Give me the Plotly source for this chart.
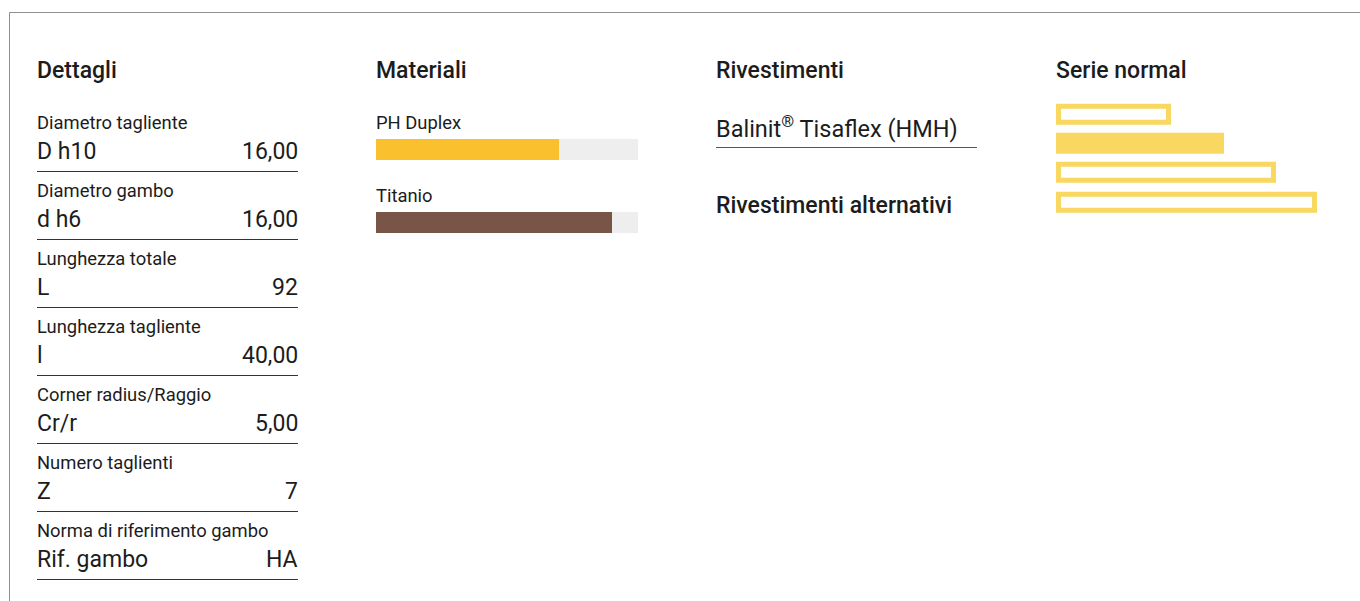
import plotly.graph_objects as go

# ---------------- data ----------------
section_titles = ["Dettagli", "Materiali", "Rivestimenti", "Serie normal"]

detail_labels = ["Diametro tagliente", "Diametro gambo", "Lunghezza totale",
                 "Lunghezza tagliente", "Corner radius/Raggio", "Numero taglienti",
                 "Norma di riferimento gambo"]
detail_symbols = ["D h10", "d h6", "L", "l", "Cr/r", "Z", "Rif. gambo"]
detail_values = ["16,00", "16,00", "92", "40,00", "5,00", "7", "HA"]

material_names = ["PH Duplex", "Titanio"]
material_scores = [70, 90]
material_max = [100, 100]
material_colors = ["#FBC02D", "#795548"]

coating_main = "Balinit<sup>®</sup> Tisaflex (HMH)"
coating_alt_title = "Rivestimenti alternativi"

series_lengths = [43, 64, 84, 100]
series_current = [False, True, False, False]

# ---------------- layout helpers ----------------
W, H = 1360, 601
TXT = "#1c1c1c"
TITLE_FONT = dict(family="Roboto, sans-serif", size=23, color=TXT, weight=500)
LABEL_FONT = dict(family="Roboto, sans-serif", size=18.4, color=TXT)
VALUE_FONT = dict(family="Roboto, sans-serif", size=23, color=TXT)
col_left = [37, 376, 716, 1056]
col_w = 261


def px(x):
    return x / W


def py(y):
    return 1 - y / H


def note(text, x, y, font, anchor="left"):
    dx = -1 if anchor == "left" else 1
    return dict(text=text, x=px(x + dx), y=py(y), xref="paper", yref="paper",
                xanchor=anchor, yanchor="middle", showarrow=False, borderpad=0,
                font=font)


fig = go.Figure()
annotations = []
shapes = []

# frame (top + left border)
shapes.append(dict(type="line", xref="paper", yref="paper", x0=px(9.5), x1=1.0,
                   y0=py(12.5), y1=py(12.5), line=dict(color="#8f8f8f", width=1)))
shapes.append(dict(type="line", xref="paper", yref="paper", x0=px(9.5), x1=px(9.5),
                   y0=py(12.5), y1=0, line=dict(color="#8f8f8f", width=1)))

# section titles
for i, t in enumerate(section_titles):
    annotations.append(note(t, col_left[i], 70.5, TITLE_FONT))

# Dettagli rows
for k, (lab, sym, val) in enumerate(zip(detail_labels, detail_symbols, detail_values)):
    yl = 122.5 + 68 * k
    yv = 151.2 + 68 * k
    yline = 171.5 + 68 * k
    annotations.append(note(lab, col_left[0], yl, LABEL_FONT))
    annotations.append(note(sym, col_left[0], yv, VALUE_FONT))
    annotations.append(note(val, col_left[0] + col_w, yv, VALUE_FONT, anchor="right"))
    shapes.append(dict(type="line", xref="paper", yref="paper", x0=px(col_left[0]),
                       x1=px(col_left[0] + col_w), y0=py(yline), y1=py(yline),
                       line=dict(color="#333333", width=1)))

# Materiali bars
mat_pos = list(range(len(material_names)))
fig.add_trace(go.Bar(x=material_max, y=mat_pos, orientation="h", width=0.297,
                     marker=dict(color="#EEEEEE", line=dict(width=0)),
                     xaxis="x", yaxis="y", hoverinfo="skip", showlegend=False))
fig.add_trace(go.Bar(x=material_scores, y=mat_pos, orientation="h", width=0.297,
                     marker=dict(color=material_colors, line=dict(width=0)),
                     xaxis="x", yaxis="y", showlegend=False,
                     customdata=material_names,
                     hovertemplate="%{customdata}: %{x}<extra></extra>"))
for i, name in enumerate(material_names):
    annotations.append(note(name, col_left[1], 122.5 + 73 * i, LABEL_FONT))

# Rivestimenti
annotations.append(note(coating_main, col_left[2], 127.5,
                        dict(family="Roboto, sans-serif", size=23.5, color=TXT)))
shapes.append(dict(type="line", xref="paper", yref="paper", x0=px(col_left[2]),
                   x1=px(col_left[2] + col_w), y0=py(147.5), y1=py(147.5),
                   line=dict(color="#555555", width=1)))
annotations.append(note(coating_alt_title, col_left[2], 206, TITLE_FONT))

# Serie normal bars (axis extended so the outline strokes are not clipped)
SER = "#F9D862"
ser_pos = list(range(len(series_lengths)))
fig.add_trace(go.Bar(x=series_lengths, y=ser_pos, orientation="h", width=0.5455,
                     marker=dict(color=[SER if c else "#FFFFFF" for c in series_current],
                                 line=dict(color=SER, width=5)),
                     xaxis="x2", yaxis="y2", hoverinfo="skip", showlegend=False))

hidden = dict(visible=False, showgrid=False, zeroline=False, fixedrange=True)
fig.update_layout(
    width=W, height=H, autosize=False,
    margin=dict(l=0, r=0, t=0, b=0, pad=0),
    paper_bgcolor="white", plot_bgcolor="rgba(0,0,0,0)",
    barmode="overlay", bargap=0,
    xaxis=dict(domain=[px(376), px(638)], range=[0, 100], anchor="y", **hidden),
    yaxis=dict(domain=[py(259), py(113)], range=[1.5, -0.5], anchor="x", **hidden),
    xaxis2=dict(domain=[px(1050), px(1330)], range=[(1050 - 1058.5) / 2.56, (1330 - 1058.5) / 2.56],
                anchor="y2", **hidden),
    yaxis2=dict(domain=[py(217.17), py(99.83)], range=[3.5, -0.5], anchor="x2", **hidden),
    annotations=annotations, shapes=shapes, showlegend=False,
)

fig.write_html("out.html", config={"displayModeBar": False},
               post_script="document.body.style.margin='0';document.body.style.overflow='hidden';")
